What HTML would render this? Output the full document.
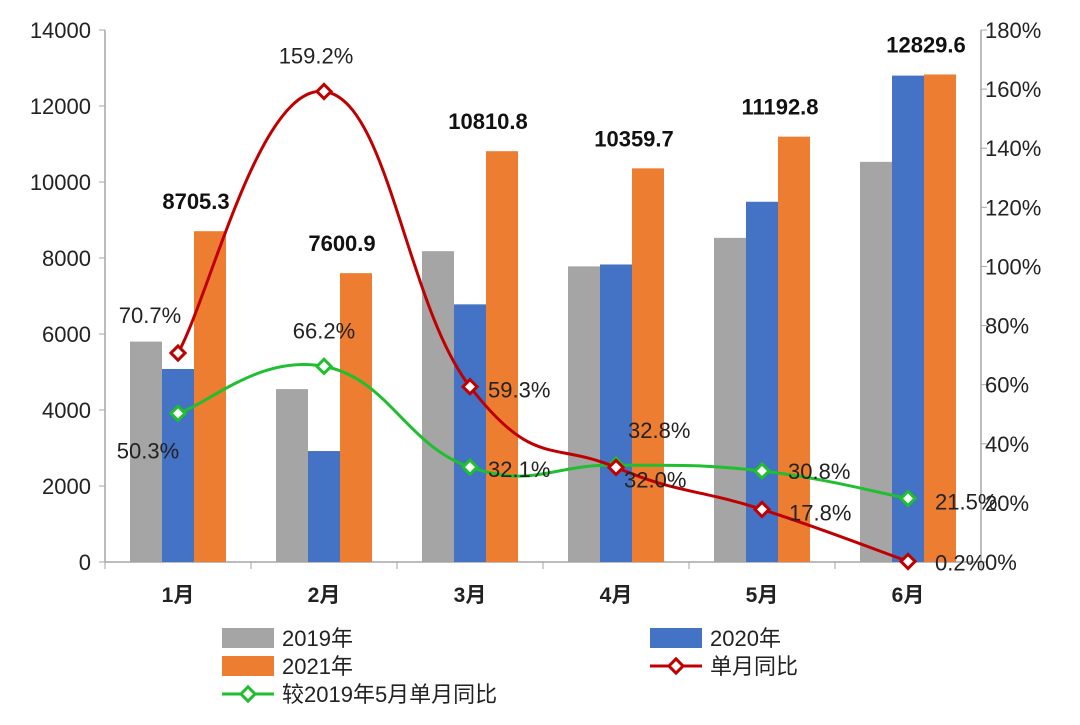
<!DOCTYPE html>
<html><head><meta charset="utf-8"><style>
body{margin:0;background:#fff;}
svg{display:block;font-family:"Liberation Sans","Noto Sans CJK SC",sans-serif;}
</style></head><body>
<svg id="chart" width="1080" height="725"></svg>
<script>
const categories=["1月","2月","3月","4月","5月","6月"];
const s2019=[5800,4550,8180,7780,8530,10530];
const s2020=[5080,2920,6780,7830,9480,12800];
const s2021=[8705.3,7600.9,10810.8,10359.7,11192.8,12829.6];
const yoy=[70.7,159.2,59.3,32.0,17.8,0.2];
const vs2019=[50.3,66.2,32.1,32.8,30.8,21.5];
const leftTicks=[0,2000,4000,6000,8000,10000,12000,14000];
const rightTicks=[0,20,40,60,80,100,120,140,160,180];

const svg=document.getElementById('chart');
const NS='http://www.w3.org/2000/svg';
function mk(tag,attrs,parent){const e=document.createElementNS(NS,tag);for(const k in attrs)e.setAttribute(k,attrs[k]);(parent||svg).appendChild(e);return e;}
const X0=105,X1=981,Y0=562,Y1=30;
const step=(X1-X0)/categories.length;
const xc=i=>X0+step*(i+0.5);
const yL=v=>Y0-v/14000*(Y0-Y1);
const yR=v=>Y0-v/180*(Y0-Y1);
const bw=32;

let a=mk('line',{x1:X0,y1:Y1,x2:X0,y2:Y0,stroke:'#a6a6a6','stroke-width':1.5});

a=mk('line',{x1:X1,y1:Y1,x2:X1,y2:Y0,stroke:'#a6a6a6','stroke-width':1.5});

a=mk('line',{x1:X0,y1:Y0,x2:X1,y2:Y0,stroke:'#a6a6a6','stroke-width':1.5});

leftTicks.forEach(v=>{
  mk('line',{x1:X0-6,y1:yL(v),x2:X0,y2:yL(v),stroke:'#a6a6a6'});
  const t=mk('text',{x:X0-14,y:yL(v)+8,'text-anchor':'end','font-size':22,fill:'#222'});t.textContent=v;
  
});
rightTicks.forEach(v=>{
  mk('line',{x1:X1,y1:yR(v),x2:X1+6,y2:yR(v),stroke:'#a6a6a6'});
  const t=mk('text',{x:X1+4,y:yR(v)+8,'font-size':22,fill:'#222'});t.textContent=v+'%';
  
});
for(let i=0;i<=categories.length;i++)mk('line',{x1:X0+step*i,y1:Y0,x2:X0+step*i,y2:Y0+7,stroke:'#a6a6a6'});
categories.forEach((c,i)=>{
  const t=mk('text',{x:xc(i),y:602,'text-anchor':'middle','font-size':21,'font-weight':'bold',fill:'#222'});t.textContent=c;
  
});
const series=[[s2019,'#a5a5a5',-bw,'bar-2019'],[s2020,'#4472c4',0,'bar-2020'],[s2021,'#ed7d31',bw,'bar-2021']];
series.forEach(([d,col,off,name])=>d.forEach((v,i)=>{
  const r=mk('rect',{x:xc(i)+off-bw/2,y:yL(v),width:bw,height:Y0-yL(v),fill:col});
  
}));
s2021.forEach((v,i)=>{
  const t=mk('text',{x:xc(i)+bw/2+2,y:yL(v)-22,'text-anchor':'middle','font-size':22,'font-weight':'bold',fill:'#111'});t.textContent=v.toFixed(1);
  
});
function smooth(pts){let d=`M${pts[0][0]},${pts[0][1]}`;for(let i=0;i<pts.length-1;i++){const p0=pts[i-1]||pts[i],p1=pts[i],p2=pts[i+1],p3=pts[i+2]||p2;const t=0.22;
d+=` C${p1[0]+(p2[0]-p0[0])*t},${p1[1]+(p2[1]-p0[1])*t} ${p2[0]-(p3[0]-p1[0])*t},${p2[1]-(p3[1]-p1[1])*t} ${p2[0]},${p2[1]}`;}return d;}
function line(data,col,name,lblOff){
  const pts=data.map((v,i)=>[xc(i),yR(v)]);
  const p=mk('path',{d:smooth(pts),fill:'none',stroke:col,'stroke-width':3});
  
  pts.forEach((q,i)=>{
    const m=mk('rect',{x:q[0]-5,y:q[1]-5,width:10,height:10,fill:'#fff',stroke:col,'stroke-width':3,transform:`rotate(45 ${q[0]} ${q[1]})`});
    
    const t=mk('text',{x:q[0]+lblOff[i][0],y:q[1]+lblOff[i][1],'text-anchor':lblOff[i][2],'font-size':22,fill:'#222'});t.textContent=data[i].toFixed(1)+'%';
    
  });
}
line(vs2019,'#1fbf2f','vs-2019',[[-30,45,'middle'],[0,-28,'middle'],[18,10,'start'],[12,-27,'start'],[26,8,'start'],[27,11,'start']]);
line(yoy,'#c00000','yoy',[[-28,-30,'middle'],[-8,-28,'middle'],[18,11,'start'],[8,20,'start'],[27,11,'start'],[27,9,'start']]);
function lg(x,y,type,col,label,name){
  const g=mk('g',{});
  if(type==='bar')mk('rect',{x:x,y:y-10,width:52,height:20,fill:col},g);
  else{mk('line',{x1:x,y1:y,x2:x+52,y2:y,stroke:col,'stroke-width':3},g);mk('rect',{x:x+21,y:y-5,width:10,height:10,fill:'#fff',stroke:col,'stroke-width':3,transform:`rotate(45 ${x+26} ${y})`},g);}
  const t=mk('text',{x:x+60,y:y+8,'font-size':22,fill:'#222'},g);t.textContent=label;
}
lg(222,638,'bar','#a5a5a5','2019年','legend-2019');
lg(650,638,'bar','#4472c4','2020年','legend-2020');
lg(222,666,'bar','#ed7d31','2021年','legend-2021');
lg(650,666,'line','#c00000','单月同比','legend-yoy');
lg(222,694,'line','#1fbf2f','较2019年5月单月同比','legend-vs-2019');
</script>
</body></html>
